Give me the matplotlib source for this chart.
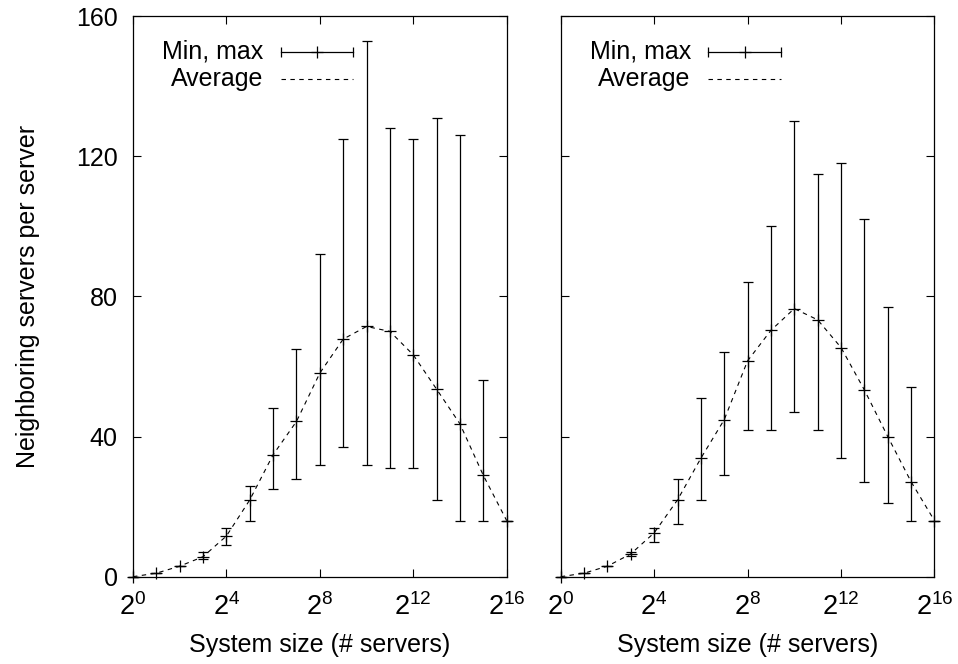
import matplotlib
matplotlib.use("Agg")
import matplotlib.pyplot as plt
from matplotlib.ticker import FixedLocator, NullLocator, LogFormatterMathtext

plt.rcParams['font.family'] = ['Liberation Sans', 'DejaVu Sans']
plt.rcParams['mathtext.fontset'] = 'custom'
plt.rcParams['mathtext.rm'] = 'Liberation Sans'
plt.rcParams['mathtext.it'] = 'Liberation Sans'
plt.rcParams['mathtext.bf'] = 'Liberation Sans'

# System size exponents: 2^0 .. 2^16 servers
exponents = list(range(17))

# Left panel: neighbouring servers per server
left_avg = [0, 1, 3, 5.7, 11.6, 21.9, 34.8, 44.3, 58.1, 67.8, 71.4, 70.0, 63.3, 53.5, 43.6, 28.9, 16]
left_min = [0, 1, 3, 5, 9, 16, 25, 28, 32, 37, 32, 31, 31, 22, 16, 16, 16]
left_max = [0, 1, 3, 7, 14, 26, 48, 65, 92, 125, 153, 128, 125, 131, 126, 56, 16]

# Right panel
right_avg = [0, 1, 3, 6.5, 12.5, 21.9, 33.8, 44.8, 61.6, 70.3, 76.5, 73.3, 65.4, 53.3, 40.0, 27.1, 16]
right_min = [0, 1, 3, 6, 10, 15, 22, 29, 42, 42, 47, 42, 34, 27, 21, 16, 16]
right_max = [0, 1, 3, 7, 14, 28, 51, 64, 84, 100, 130, 115, 118, 102, 77, 54, 16]

x_ticks = [0, 4, 8, 12, 16]
y_ticks = [0, 40, 80, 120, 160]

FS = 18

fig = plt.figure(figsize=(9.58, 6.64), dpi=100)
ax_l = fig.add_axes([0.1388, 0.1315, 0.3901, 0.8444])
ax_r = fig.add_axes([0.5853, 0.1315, 0.3901, 0.8444])


def draw_panel(ax, avg, lo, hi, show_ylabels):
    sizes = [2 ** e for e in exponents]
    yerr = [[a - m for a, m in zip(avg, lo)], [m - a for a, m in zip(avg, hi)]]
    ax.errorbar(sizes, avg, yerr=yerr, fmt='none', ecolor='black',
                elinewidth=0.9, capsize=3.5, capthick=0.9, zorder=3,
                clip_on=False)
    ax.plot(sizes, avg, linestyle=(0, (4, 4)), color='black', linewidth=0.8,
            marker='+', markersize=8, markeredgewidth=0.9, zorder=4,
            clip_on=False)

    ax.set_xscale('log', base=2)
    ax.set_xlim(1, 2 ** 16)
    ax.set_ylim(0, 160)
    ax.xaxis.set_major_locator(FixedLocator([2 ** e for e in x_ticks]))
    ax.xaxis.set_minor_locator(NullLocator())
    ax.xaxis.set_major_formatter(LogFormatterMathtext(base=2))
    ax.set_yticks(y_ticks)

    ax.tick_params(axis='both', direction='in', length=6, width=0.8,
                   top=True, right=True, labelsize=FS)
    ax.tick_params(axis='x', pad=12, labelsize=19.5)
    ax.tick_params(axis='y', pad=11)
    if not show_ylabels:
        ax.tick_params(axis='y', labelleft=False)
    for sp in ax.spines.values():
        sp.set_linewidth(0.9)

    ax.set_xlabel('System size (# servers)', fontsize=FS)
    ax.xaxis.set_label_coords(0.5, -0.1)

    # key in the upper left corner
    ty1, ty2 = 0.9358, 0.8876
    tx, lx0, lx1 = 0.348, 0.395, 0.5895
    ax.text(tx, ty1, 'Min, max', transform=ax.transAxes, ha='right',
            va='center', fontsize=FS)
    ax.text(tx, ty2, 'Average', transform=ax.transAxes, ha='right',
            va='center', fontsize=FS)
    ax.plot([lx0, lx1], [ty1, ty1], transform=ax.transAxes, color='black',
            linewidth=0.9)
    ax.plot([lx0, lx1], [ty1, ty1], transform=ax.transAxes, color='black',
            linestyle='none', marker='|', markersize=7, markeredgewidth=0.9)
    ax.plot([(lx0 + lx1) / 2], [ty1], transform=ax.transAxes, color='black',
            linestyle='none', marker='+', markersize=8, markeredgewidth=0.9)
    ax.plot([lx0, lx1], [ty2, ty2], transform=ax.transAxes, color='black',
            linewidth=0.8, linestyle=(0, (4, 4)))


draw_panel(ax_l, left_avg, left_min, left_max, True)
draw_panel(ax_r, right_avg, right_min, right_max, False)

ax_l.set_ylabel('Neighboring servers per server', fontsize=FS)
ax_l.yaxis.set_label_coords(-0.25, 0.5)

fig.savefig('out.png', dpi=100)
